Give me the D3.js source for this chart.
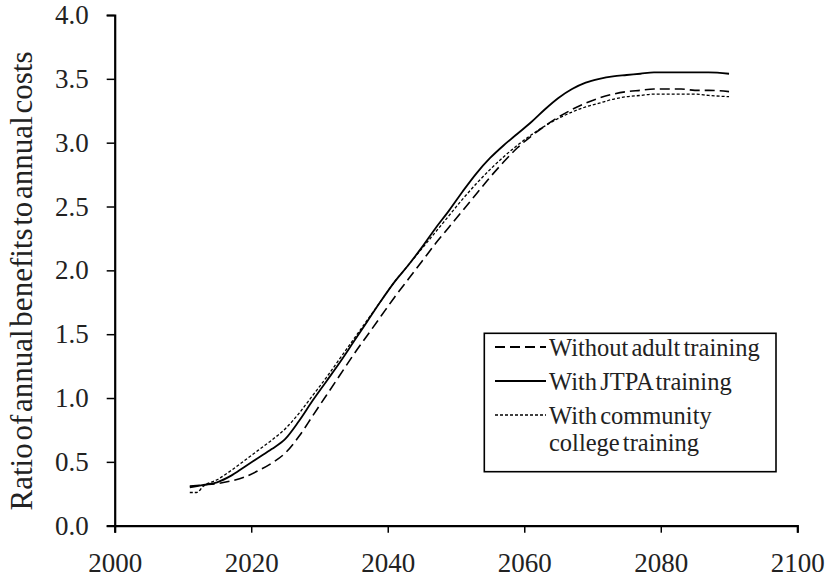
<!DOCTYPE html>
<html><head><meta charset="utf-8">
<script src="https://cdn.jsdelivr.net/npm/d3@7"></script>
<style>body{margin:0;background:#fff}svg text{font-family:"Liberation Serif","Times New Roman",serif;fill:#222}</style>
</head><body><svg id="c" width="831" height="581"></svg>
<script>
const years = [2011,2013,2015,2017,2019,2021,2023,2025,2027,2029,2031,2033,2035,2037,2039,2041,2043,2045,2047,2049,2051,2053,2055,2057,2059,2061,2063,2065,2067,2069,2071,2073,2075,2077,2079,2081,2083,2085,2087,2090];
const withoutAdult = [0.31,0.32,0.33,0.35,0.38,0.43,0.49,0.57,0.70,0.86,1.02,1.18,1.34,1.49,1.64,1.79,1.93,2.07,2.21,2.34,2.47,2.60,2.73,2.85,2.96,3.05,3.13,3.20,3.26,3.31,3.35,3.38,3.40,3.41,3.42,3.42,3.42,3.41,3.41,3.40];
const withJTPA = [0.30,0.32,0.34,0.39,0.46,0.53,0.60,0.68,0.82,0.98,1.13,1.28,1.44,1.60,1.76,1.91,2.04,2.18,2.33,2.47,2.62,2.76,2.88,2.98,3.07,3.16,3.26,3.35,3.42,3.47,3.50,3.52,3.53,3.54,3.55,3.55,3.55,3.55,3.55,3.54];
const withCC = [0.26,0.31,0.36,0.43,0.51,0.59,0.67,0.76,0.88,1.02,1.16,1.31,1.46,1.61,1.76,1.91,2.04,2.17,2.30,2.43,2.56,2.68,2.79,2.89,2.98,3.06,3.13,3.19,3.24,3.28,3.31,3.34,3.36,3.37,3.38,3.38,3.38,3.38,3.37,3.36];
const ccStartYears = [2011,2012];
const ccStartVals = [0.26,0.26];
const xTicks = [2000,2020,2040,2060,2080,2100];
const yTicks = [0,0.5,1,1.5,2,2.5,3,3.5,4];
const legendLabels = [["Without adult training"],["With JTPA training"],["With community","college training"]];

const svg = d3.select("#c");
const x = d3.scaleLinear().domain([2000,2100]).range([114.7,797.3]);
const y = d3.scaleLinear().domain([0,4]).range([525.7,15]);

const xa = svg.append("g").attr("transform","translate(0,525.7)")
  .call(d3.axisBottom(x).tickValues(xTicks).tickSize(7).tickPadding(20).tickFormat(d3.format("d")));
const ya = svg.append("g").attr("transform","translate(114.7,0)")
  .call(d3.axisLeft(y).tickValues(yTicks).tickSize(8).tickPadding(18).tickFormat(d3.format(".1f")));
[xa,ya].forEach(a=>{a.select(".domain").attr("stroke","#000").attr("stroke-width",2.2);
  a.selectAll(".tick line").attr("stroke","#000").attr("stroke-width",1.5);
  a.selectAll(".tick text").style("font-size","27px").attr("fill","#222");});

svg.append("text").attr("transform","translate(32,281) rotate(-90)").attr("text-anchor","middle")
  .style("font-size","31px").style("word-spacing","-5px").text("Ratio of annual benefits to annual costs");

const styles = [
  {vals:withoutAdult, dash:"10,5", w:1.6},
  {vals:withJTPA, dash:null, w:1.8},
  {vals:withCC, dash:"3,2", w:1.3}
];
const line = d3.line().x(d=>x(d[0])).y(d=>y(d[1])).curve(d3.curveMonotoneX);
styles.forEach((s,i)=>{
  let pts = years.map((yr,j)=>[yr,s.vals[j]]);
  if(i===2){ pts = [[ccStartYears[0],ccStartVals[0]],[ccStartYears[1],ccStartVals[1]]].concat(pts.slice(1)); }
  svg.append("path").datum(pts).attr("d",line).attr("fill","none").attr("stroke","#000")
    .attr("stroke-width",s.w).attr("stroke-dasharray",s.dash);
});

const lg = svg.append("g");
lg.append("rect").attr("x",484.3).attr("y",333.3).attr("width",291.7).attr("height",138.4)
  .attr("fill","#fff").attr("stroke","#000").attr("stroke-width",1.6);
const rows=[347,381,415];
styles.forEach((s,i)=>{
  lg.append("line").attr("x1",495).attr("x2",546).attr("y1",rows[i]).attr("y2",rows[i])
    .attr("stroke","#000").attr("stroke-width",s.w+0.4).attr("stroke-dasharray",s.dash);
  legendLabels[i].forEach((t,k)=>{
    lg.append("text").attr("x",549).attr("y",rows[i]+k*27).attr("dy","0.35em")
      .style("font-size","24.5px").style("word-spacing","-3px").text(t);
  });
});
</script></body></html>
